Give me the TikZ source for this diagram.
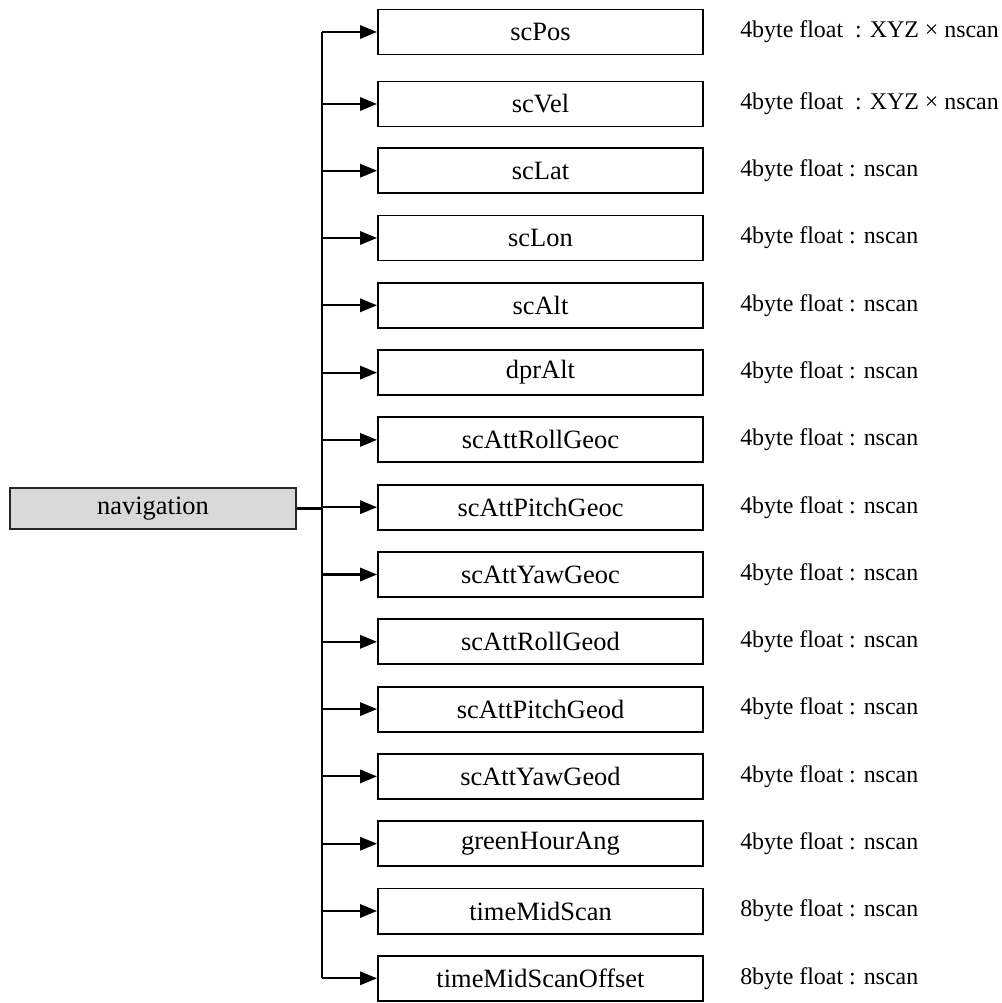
\documentclass[tikz,border=0pt]{standalone}
\usepackage{fontspec}
\setmainfont{Liberation Serif}
\usetikzlibrary{arrows.meta, positioning, calc}
\colorlet{navgray}{black!15}
\tikzset{
  field/.style={draw=black, line width=1.4pt, minimum width=8.125cm, minimum height=1.125cm, inner sep=0pt, font=\fontsize{18.8}{22}\selectfont},
  group/.style={field, fill=navgray, draw=black!85, minimum width=7.15cm, minimum height=1.025cm},
  info/.style={anchor=west, inner sep=0pt, font=\fontsize{17}{20}\selectfont},
  link/.style={line width=1.45pt, -{Triangle[length=12pt, width=9.5pt]}}
}
\begin{document}
\begin{tikzpicture}[x=0.025cm, y=-0.025cm]
  \useasboundingbox (0,0) rectangle (1001,1003);
  \node[group] (navigation) at (153,508.5) {navigation};
  \coordinate (trunk) at (322,508.5);
  \foreach \name/\y/\kind in {scPos/32/{4byte float\ \ : XYZ × nscan}, scVel/104/{4byte float\ \ : XYZ × nscan},
      scLat/170.7/{4byte float : nscan}, scLon/238/{4byte float : nscan}, scAlt/305.3/{4byte float : nscan},
      dprAlt/372.6/{4byte float : nscan}, scAttRollGeoc/439.9/{4byte float : nscan},
      scAttPitchGeoc/507.2/{4byte float : nscan}, scAttYawGeoc/574.5/{4byte float : nscan},
      scAttRollGeod/641.8/{4byte float : nscan}, scAttPitchGeod/709.1/{4byte float : nscan},
      scAttYawGeod/776.4/{4byte float : nscan}, greenHourAng/843.7/{4byte float : nscan},
      timeMidScan/911/{8byte float : nscan}, timeMidScanOffset/978.3/{8byte float : nscan}} {
    \node[field] (\name) at (540.5,\y) {\name};
    \node[info] (\name-info) at (740,\y) {\kind};
    \draw[link] (\name.west -| trunk) -- (\name.west);
  }
  \draw[line width=1.45pt] (scPos.west -| trunk) -- (timeMidScanOffset.west -| trunk);
  \draw[line width=2.2pt] (navigation.east) -- (trunk);
\end{tikzpicture}
\end{document}
